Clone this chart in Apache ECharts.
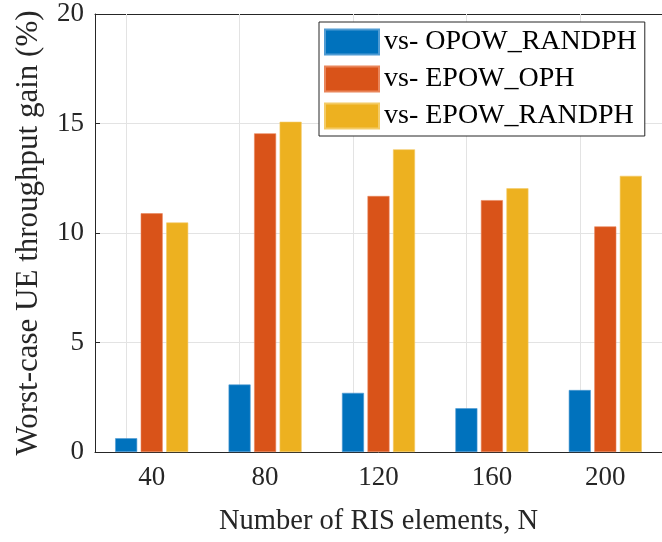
<!DOCTYPE html>
<html>
<head>
<meta charset="utf-8">
<script src="https://cdn.jsdelivr.net/npm/echarts@6/dist/echarts.min.js"></script>
<style>
  html, body { margin: 0; padding: 0; background: #fff; }
  #chart { width: 662px; height: 542px; }
</style>
</head>
<body>
<div id="chart"></div>
<script>
// Number of RIS elements (x categories)
const categories = ['40', '80', '120', '160', '200'];

// Worst-case UE throughput gain (%) against each baseline
const seriesNames = ['vs- OPOW_RANDPH', 'vs- EPOW_OPH', 'vs- EPOW_RANDPH'];
const gainOpowRandph = [0.63, 3.08, 2.70, 2.00, 2.83];
const gainEpowOph    = [10.90, 14.55, 11.69, 11.50, 10.30];
const gainEpowRandph = [10.48, 15.08, 13.82, 12.04, 12.61];

const yTicks = [0, 5, 10, 15, 20];

const colors = ['#0072BD', '#D95319', '#EDB120'];
const edgeColors = ['#4f9bd3', '#e9855a', '#f4cb66'];
const textColor = '#262626';
const gridColor = '#e3e3e3';
const serif = '"Liberation Serif", "Times New Roman", serif';

const chart = echarts.init(document.getElementById('chart'), null, { renderer: 'canvas' });

function barSeries(i, data) {
  const s = {
    name: seriesNames[i],
    type: 'bar',
    data: data,
    barWidth: 22,
    barGap: '16%',
    itemStyle: { color: colors[i], borderColor: edgeColors[i], borderWidth: 0.6 },
    emphasis: { disabled: true },
    z: 3
  };
  if (i === 0) {
    // vertical grid lines through the category centres
    s.markLine = {
      silent: true,
      symbol: 'none',
      z: 1,
      label: { show: false },
      lineStyle: { color: gridColor, width: 1, type: 'solid' },
      data: categories.map(c => ({ xAxis: c }))
    };
  }
  return s;
}

const option = {
  animation: false,
  backgroundColor: '#ffffff',
  grid: { left: 95, top: 14, width: 576, height: 438, containLabel: false },
  legend: {
    left: 319, top: 22,
    orient: 'vertical',
    padding: [6, 8, 6, 5],
    itemWidth: 54, itemHeight: 25, itemGap: 9,
    backgroundColor: '#ffffff',
    borderColor: '#262626', borderWidth: 1,
    borderRadius: 0,
    icon: 'rect',
    textStyle: { fontFamily: serif, fontSize: 28, lineHeight: 25, color: '#000' },
    data: seriesNames
  },
  xAxis: [{
    type: 'category',
    data: categories,
    position: 'bottom',
    axisLine: { lineStyle: { color: textColor, width: 1 } },
    axisTick: { inside: true, alignWithLabel: true, length: 5, lineStyle: { color: textColor } },
    axisLabel: { fontFamily: serif, fontSize: 27, color: textColor, margin: 12 },
    splitLine: { show: false },
    name: 'Number of RIS elements, N',
    nameLocation: 'middle',
    nameGap: 55,
    nameTextStyle: { fontFamily: serif, fontSize: 28.5, color: textColor }
  }, {
    type: 'category',
    data: categories,
    position: 'top',
    axisLine: { lineStyle: { color: textColor, width: 1 } },
    axisTick: { inside: true, alignWithLabel: true, length: 5, lineStyle: { color: textColor } },
    axisLabel: { show: false },
    splitLine: { show: false }
  }],
  yAxis: [{
    type: 'value',
    min: yTicks[0],
    max: yTicks[yTicks.length - 1],
    interval: 5,
    axisLine: { show: true, lineStyle: { color: textColor, width: 1 } },
    axisTick: { show: true, inside: true, length: 5, lineStyle: { color: textColor } },
    axisLabel: { fontFamily: serif, fontSize: 27, color: textColor, margin: 11 },
    splitLine: { show: true, lineStyle: { color: gridColor, width: 1 } },
    name: 'Worst-case UE throughput gain (%)',
    nameLocation: 'middle',
    nameGap: 51,
    nameTextStyle: { fontFamily: serif, fontSize: 31, color: textColor }
  }],
  series: [
    barSeries(0, gainOpowRandph),
    barSeries(1, gainEpowOph),
    barSeries(2, gainEpowRandph)
  ]
};

chart.setOption(option);
</script>
</body>
</html>
